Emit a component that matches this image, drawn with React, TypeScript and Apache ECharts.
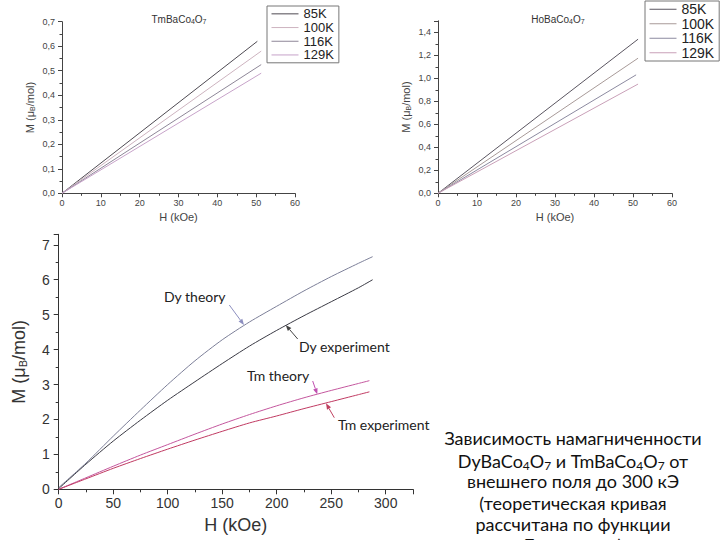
import { useEffect, useRef } from 'react';
import * as echarts from 'echarts';

// ---- data ----
const tempLabels = ['85K', '100K', '116K', '129K'];
// TmBaCo4O7 (top-left): end points of the straight M(H) lines
const tmEndH = [50.3, 51.3, 51.3, 51.3];
const tmEndM = [0.62, 0.58, 0.525, 0.49];
// HoBaCo4O7 (top-right)
const hoEndH = [51.3, 51.3, 50.8, 51.3];
const hoEndM = [1.34, 1.175, 1.03, 0.95];

// bottom chart
const dyH = [0, 25, 50, 75, 100, 125, 150, 175, 200, 225, 250, 275, 288];
const dyTheory = [0.05, 0.75, 1.52, 2.27, 3.0, 3.68, 4.28, 4.79, 5.24, 5.68, 6.09, 6.47, 6.66];
const dyExperiment = [0.02, 0.72, 1.38, 1.98, 2.55, 3.08, 3.6, 4.1, 4.55, 4.97, 5.37, 5.77, 6.0];
const tmH = [0, 25, 50, 75, 100, 125, 150, 175, 200, 225, 250, 275, 285];
const tmTheory = [0, 0.33, 0.66, 0.98, 1.28, 1.58, 1.87, 2.14, 2.39, 2.62, 2.83, 3.03, 3.11];
const tmExperiment = [0, 0.3, 0.6, 0.88, 1.15, 1.41, 1.66, 1.9, 2.1, 2.31, 2.51, 2.71, 2.79];

const tmColors = ['#4e4a52', '#cdb3bf', '#8e8798', '#c7a3c9'];
const hoColors = ['#5a5560', '#a89a98', '#8c8aa0', '#c9a0b8'];

const ARIAL = '"Liberation Sans", Arial, sans-serif';
const CAL = 'Lato, "Open Sans", sans-serif';

const comma = (v: number) => v.toFixed(1).replace('.', ',');

function arrow(x1: number, y1: number, x2: number, y2: number, color: string) {
  const dx = x2 - x1, dy = y2 - y1;
  const L = Math.hypot(dx, dy);
  const ux = dx / L, uy = dy / L;
  const hl = 6, hw = 2.3;
  const bx = x2 - ux * hl, by = y2 - uy * hl;
  return [
    { type: 'line', shape: { x1, y1, x2: bx, y2: by }, style: { stroke: color, lineWidth: 1 } },
    {
      type: 'polygon',
      shape: { points: [[x2, y2], [bx - uy * hw, by + ux * hw], [bx + uy * hw, by - ux * hw]] },
      style: { fill: color },
    },
  ];
}

function smallAxisX(gridIndex: number) {
  return {
    gridIndex,
    type: 'value',
    min: 0,
    max: 60,
    interval: 10,
    axisLine: { show: true, onZero: false, lineStyle: { color: '#444', width: 1 } },
    axisTick: { show: true, length: 4, lineStyle: { color: '#444' } },
    minorTick: { show: true, splitNumber: 2, length: 2.5, lineStyle: { color: '#444' } },
    splitLine: { show: false },
    axisLabel: { fontSize: 9, color: '#444', margin: 5, fontFamily: ARIAL },
    name: 'H (kOe)',
    nameLocation: 'middle',
    nameGap: 18,
    nameTextStyle: { fontSize: 11, color: '#444', fontFamily: ARIAL },
  };
}

function smallAxisY(gridIndex: number, max: number, interval: number) {
  return {
    gridIndex,
    type: 'value',
    min: 0,
    max,
    interval,
    axisLine: { show: true, onZero: false, lineStyle: { color: '#444', width: 1 } },
    axisTick: { show: true, length: 4, lineStyle: { color: '#444' } },
    minorTick: { show: true, splitNumber: 2, length: 2.5, lineStyle: { color: '#444' } },
    splitLine: { show: false },
    axisLabel: { fontSize: 9, color: '#444', margin: 7, fontFamily: ARIAL, formatter: comma, showMaxLabel: max === 0.7 },
    name: '{a|M (μ}{b|B}{a|/mol)}',
    nameLocation: 'middle',
    nameGap: 26,
    nameTextStyle: {
      fontFamily: ARIAL,
      rich: {
        a: { fontSize: 11, color: '#444', fontFamily: ARIAL },
        b: { fontSize: 7, color: '#444', fontFamily: ARIAL, padding: [5, 0, 0, 0] },
      },
    },
  };
}

function legendFor(prefix: string, left: number, top: number, fontSize: number, rowH: number) {
  return {
    left,
    top,
    orient: 'vertical',
    data: tempLabels.map((t) => prefix + ' ' + t),
    formatter: (n: string) => n.split(' ')[1],
    itemWidth: 27,
    itemHeight: rowH,
    itemGap: 0,
    selectedMode: false,
    itemStyle: { opacity: 0 },
    lineStyle: { width: 1 },
    borderColor: '#777',
    borderWidth: 1,
    borderRadius: 0,
    padding: [1, 5, 1, 4],
    textStyle: { fontSize, color: '#222', fontFamily: ARIAL, lineHeight: rowH },
  };
}

const bottomSeries = (name: string, xs: number[], ys: number[], color: string) => ({
  name,
  type: 'line',
  xAxisIndex: 2,
  yAxisIndex: 2,
  symbol: 'none',
  smooth: 0.25,
  silent: true,
  data: xs.map((h, i) => [h, ys[i]]),
  lineStyle: { width: 1, color },
});

const option: any = {
  animation: false,
  backgroundColor: '#fff',
  grid: [
    { left: 62, right: 425, top: 21.7, bottom: 346.7 },
    { left: 438, right: 48, top: 20.8, bottom: 346.7 },
    { left: 58.7, right: 307, top: 234.3, bottom: 50.7 },
  ],
  xAxis: [
    smallAxisX(0),
    smallAxisX(1),
    {
      gridIndex: 2,
      type: 'value',
      min: 0,
      max: 325,
      interval: 50,
      axisLine: { show: true, onZero: false, lineStyle: { color: '#333', width: 1 } },
      axisTick: { show: true, length: 5, lineStyle: { color: '#333' } },
      minorTick: { show: true, splitNumber: 2, length: 3, lineStyle: { color: '#333' } },
      splitLine: { show: false },
      axisLabel: { fontSize: 14, color: '#333', margin: 7, fontFamily: ARIAL, showMaxLabel: false },
      name: 'H (kOe)',
      nameLocation: 'middle',
      nameGap: 27,
      nameTextStyle: { fontSize: 18, color: '#333', fontFamily: ARIAL },
    },
  ],
  yAxis: [
    smallAxisY(0, 0.7, 0.1),
    smallAxisY(1, 1.5, 0.2),
    {
      gridIndex: 2,
      type: 'value',
      min: 0,
      max: 7.3,
      interval: 1,
      axisLine: { show: true, onZero: false, lineStyle: { color: '#333', width: 1 } },
      axisTick: { show: true, length: 5, lineStyle: { color: '#333' } },
      minorTick: { show: true, splitNumber: 2, length: 3, lineStyle: { color: '#333' } },
      splitLine: { show: false },
      axisLabel: { fontSize: 14, color: '#333', margin: 9, fontFamily: ARIAL, showMaxLabel: false },
      name: '{a|M (μ}{b|B}{a|/mol)}',
      nameLocation: 'middle',
      nameGap: 30,
      nameTextStyle: {
        fontFamily: ARIAL,
        rich: {
          a: { fontSize: 18, color: '#333', fontFamily: ARIAL },
          b: { fontSize: 11, color: '#333', fontFamily: ARIAL, padding: [8, 0, 0, 0] },
        },
      },
    },
  ],
  legend: [legendFor('Tm', 267, 6, 13, 13.7), legendFor('Ho', 645, 1, 14, 14.5)],
  series: [
    ...tempLabels.map((t, i) => ({
      name: 'Tm ' + t,
      type: 'line',
      xAxisIndex: 0,
      yAxisIndex: 0,
      symbol: 'none',
      silent: true,
      data: [[0, 0], [tmEndH[i], tmEndM[i]]],
      lineStyle: { width: 1, color: tmColors[i] },
      itemStyle: { color: tmColors[i] },
    })),
    ...tempLabels.map((t, i) => ({
      name: 'Ho ' + t,
      type: 'line',
      xAxisIndex: 1,
      yAxisIndex: 1,
      symbol: 'none',
      silent: true,
      data: [[0, 0], [hoEndH[i], hoEndM[i]]],
      lineStyle: { width: 1, color: hoColors[i] },
      itemStyle: { color: hoColors[i] },
    })),
    bottomSeries('Dy theory', dyH, dyTheory, '#7c7f98'),
    bottomSeries('Dy experiment', dyH, dyExperiment, '#3a3a44'),
    bottomSeries('Tm theory', tmH, tmTheory, '#c4579e'),
    bottomSeries('Tm experiment', tmH, tmExperiment, '#c03a62'),
  ],
  graphic: [
    {
      type: 'text',
      x: 179,
      y: 19,
      style: {
        text: '{n|TmBaCo}{s|4}{n|O}{s|7}',
        align: 'center',
        verticalAlign: 'middle',
        rich: {
          n: { fontSize: 10, fill: '#333', fontFamily: ARIAL },
          s: { fontSize: 7, fill: '#333', fontFamily: ARIAL, padding: [4, 0, 0, 0] },
        },
      },
    },
    {
      type: 'text',
      x: 558,
      y: 19,
      style: {
        text: '{n|HoBaCo}{s|4}{n|O}{s|7}',
        align: 'center',
        verticalAlign: 'middle',
        rich: {
          n: { fontSize: 10, fill: '#333', fontFamily: ARIAL },
          s: { fontSize: 7, fill: '#333', fontFamily: ARIAL, padding: [4, 0, 0, 0] },
        },
      },
    },
    { type: 'text', x: 164, y: 296, style: { text: 'Dy theory', fontSize: 14, fontFamily: CAL, fill: '#222', align: 'left', verticalAlign: 'middle' } },
    { type: 'text', x: 299, y: 346, style: { text: 'Dy experiment', fontSize: 14, fontFamily: CAL, fill: '#222', align: 'left', verticalAlign: 'middle' } },
    { type: 'text', x: 247, y: 375, style: { text: 'Tm theory', fontSize: 14, fontFamily: CAL, fill: '#222', align: 'left', verticalAlign: 'middle' } },
    { type: 'text', x: 338, y: 424, style: { text: 'Tm experiment', fontSize: 14, fontFamily: CAL, fill: '#222', align: 'left', verticalAlign: 'middle' } },
    ...arrow(229.3, 305, 244, 325, '#8d8fc0'),
    ...arrow(297.7, 339, 285.7, 325, '#444'),
    ...arrow(312.7, 381, 317.3, 394.3, '#c050b0'),
    ...arrow(334.3, 417.7, 326, 403.3, '#c04060'),
    { type: 'text', x: 573, y: 437.5, style: { text: 'Зависимость намагниченности', fontSize: 18, fontFamily: CAL, fill: '#111', align: 'center', verticalAlign: 'middle' } },
    {
      type: 'text',
      x: 573,
      y: 461,
      style: {
        text: '{n|DyBaCo}{s|4}{n|O}{s|7}{n| и TmBaCo}{s|4}{n|O}{s|7}{n| от}',
        align: 'center',
        verticalAlign: 'middle',
        rich: {
          n: { fontSize: 18, fill: '#111', fontFamily: CAL },
          s: { fontSize: 12, fill: '#111', fontFamily: CAL, padding: [8, 0, 0, 0] },
        },
      },
    },
    { type: 'text', x: 573, y: 481, style: { text: 'внешнего поля до 300 кЭ', fontSize: 18, fontFamily: CAL, fill: '#111', align: 'center', verticalAlign: 'middle' } },
    { type: 'text', x: 573, y: 503, style: { text: '(теоретическая кривая', fontSize: 18, fontFamily: CAL, fill: '#111', align: 'center', verticalAlign: 'middle' } },
    { type: 'text', x: 573, y: 524, style: { text: 'рассчитана по функции', fontSize: 18, fontFamily: CAL, fill: '#111', align: 'center', verticalAlign: 'middle' } },
    { type: 'text', x: 573, y: 545, style: { text: 'Бриллюэна)', fontSize: 18, fontFamily: CAL, fill: '#111', align: 'center', verticalAlign: 'middle' } },
  ],
};

export default function App() {
  const ref = useRef<HTMLDivElement>(null);
  useEffect(() => {
    const chart = echarts.init(ref.current as HTMLDivElement, null, { renderer: 'svg' });
    chart.setOption(option);
    return () => chart.dispose();
  }, []);
  return (
    <div
      ref={ref}
      style={{ position: 'absolute', left: 0, top: 0, width: 720, height: 540, background: '#fff', overflow: 'hidden' }}
    />
  );
}
